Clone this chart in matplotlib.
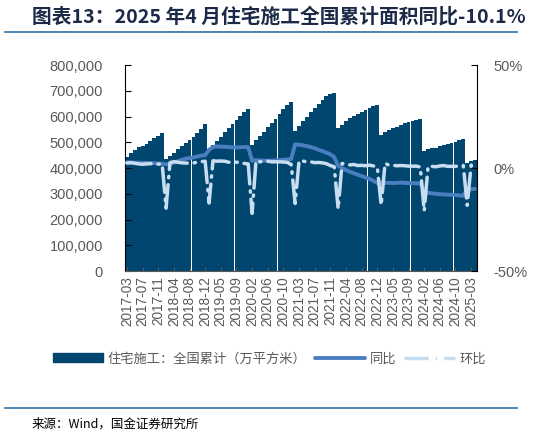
import matplotlib.pyplot as plt
from matplotlib.ticker import FuncFormatter, FixedLocator
from matplotlib.lines import Line2D

plt.rcParams['font.family'] = ['Liberation Sans', 'Noto Sans CJK SC', 'DejaVu Sans']

# months: 2017-03 .. 2025-04, January is not published
years = list(range(2017, 2026))
months = []
for y in years:
    for m in range(2, 13):
        if (y == 2017 and m < 3) or (y == 2025 and m > 4):
            continue
        months.append(f'{y}-{m:02d}')

# residential construction area, cumulative (10k m2)
area = [
    443000, 458000, 470000, 480000, 487000, 495000, 504000, 515000, 525000, 537000,
    434000, 445000, 459000, 472000, 484000, 496000, 508000, 520000, 535000, 552000, 570000,
    473000, 489000, 505000, 522000, 539000, 554000, 570000, 586000, 603000, 616000, 628000,
    490000, 508000, 523000, 540000, 558000, 575000, 592000, 610000, 628000, 645000, 656000,
    543000, 562000, 581000, 598000, 616000, 632000, 649000, 665000, 679000, 687000, 691000,
    554000, 566000, 584000, 593000, 603000, 610000, 618000, 625000, 634000, 640000, 644000,
    528000, 540000, 547000, 554000, 560000, 567000, 573000, 578000, 583000, 588000, 591000,
    468000, 472000, 476000, 479000, 484000, 490000, 494000, 498000, 502000, 507000, 513000,
    420000, 426000, 431000,
]

# year on year (%)
yoy = [
    2.8, 2.7, 2.6, 2.6, 2.5, 2.5, 2.4, 2.3, 2.2, 2.1,
    1.8, 2.0, 2.6, 3.3, 4.0, 4.5, 4.8, 5.2, 5.6, 6.0, 6.3,
    8.8, 10.2, 10.5, 10.4, 10.3, 10.2, 10.0, 10.0, 10.1, 10.2, 10.1,
    3.5, 3.8, 3.7, 3.6, 3.5, 3.6, 3.7, 3.9, 4.0, 4.1, 4.4,
    11.5, 11.3, 11.0, 10.6, 10.2, 9.6, 8.8, 8.2, 7.5, 6.6, 5.3,
    1.0, 0.0, -1.0, -1.8, -2.5, -3.2, -3.9, -4.6, -5.3, -6.2, -7.3,
    -7.0, -7.2, -7.2, -7.3, -7.2, -7.1, -7.2, -7.3, -7.3, -7.4, -7.5,
    -11.0, -12.0, -12.3, -12.5, -12.7, -12.8, -12.9, -13.0, -13.1, -13.3, -13.4,
    -10.3, -10.3, -10.1,
]

# month on month (%)
mom = [
    2.4, 2.6, 2.3, 2.0, 1.8, 2.0, 2.1, 2.2, 1.9, 2.0,
    -19.5, 2.6, 3.1, 2.8, 2.5, 2.4, 2.3, 2.4, 2.9, 3.1, 3.3,
    -17.0, 3.5, 3.3, 3.4, 3.3, 2.8, 2.9, 2.8, 2.9, 2.2, 2.0,
    -22.0, 3.6, 3.0, 3.2, 3.3, 3.0, 3.0, 3.0, 2.9, 2.7, 1.7,
    -17.2, 3.5, 3.4, 2.9, 3.0, 2.6, 2.7, 2.5, 2.1, 1.2, 0.6,
    -19.8, 2.2, 2.0, 1.5, 1.7, 1.2, 1.3, 1.1, 1.4, 1.0, 0.6,
    -18.0, 2.3, 1.3, 1.3, 1.1, 1.2, 1.1, 0.9, 0.9, 0.9, 0.5,
    -20.8, 0.9, 0.8, 0.6, 1.0, 1.2, 0.8, 0.8, 0.8, 1.0, 1.2,
    -18.1, 1.4, 1.2,
]

bar_color = '#00466E'
yoy_color = '#4A7EC0'
mom_color = '#C9DDF0'
grey = '#595959'
cjk = ['Noto Sans CJK SC', 'DejaVu Sans']
mom_style = (0, (7, 2, 0.4, 2))

fig = plt.figure(figsize=(5.59, 4.36), dpi=100)
ax = fig.add_axes([0.2236, 0.3784, 0.6297, 0.4725])
ax2 = ax.twinx()

x = list(range(len(months)))
ax.bar(x, area, width=0.98, color=bar_color, linewidth=0)
ax2.plot(x, yoy, color=yoy_color, lw=2.8, solid_capstyle='round', solid_joinstyle='round')
ax2.plot(x, mom, color=mom_color, lw=2.5, linestyle=mom_style, dash_capstyle='round')

ax.set_xlim(-0.5, len(months) - 0.5)
ax.set_ylim(0, 800000)
ax.yaxis.set_major_locator(FixedLocator(range(0, 800001, 100000)))
ax.yaxis.set_major_formatter(FuncFormatter(lambda v, p: f'{v:,.0f}'))
ax2.set_ylim(-50, 50)
ax2.set_yticks([-50, 0, 50])
ax2.yaxis.set_major_formatter(FuncFormatter(lambda v, p: f'{v:.0f}%'))

tick_pos = x[::4]
ax.set_xticks(tick_pos)
ax.set_xticklabels([months[i] for i in tick_pos], rotation=90)

for a in (ax, ax2):
    a.spines['top'].set_visible(False)
ax.spines['left'].set_color('black')
ax2.spines['right'].set_color('black')
ax.spines['bottom'].set_color(grey)
ax2.spines['bottom'].set_visible(False)
ax2.spines['left'].set_visible(False)
ax.spines['right'].set_visible(False)

ax.tick_params(axis='y', direction='in', length=4, colors='black', labelcolor=grey,
               labelsize=10.5, pad=16)
ax2.tick_params(axis='y', direction='in', length=4, colors='black', labelcolor=grey,
                labelsize=10.5, pad=12)
ax.tick_params(axis='x', direction='in', length=3, colors=grey, labelcolor=grey,
               labelsize=9.8, pad=4)

# legend
handles = [
    plt.Rectangle((0, 0), 1, 1, color=bar_color),
    Line2D([], [], color=yoy_color, lw=2.8, solid_capstyle='round'),
    Line2D([], [], color=mom_color, lw=2.5, linestyle=mom_style),
]
labels = ['住宅施工：全国累计（万平方米）', '同比', '环比']
fig.legend(handles, labels, loc='center', bbox_to_anchor=(0.482, 0.177), ncol=3,
           frameon=False, handlelength=3.8, handletextpad=0.4, columnspacing=0.6,
           prop={'family': cjk, 'size': 9.5}, labelcolor=grey)

# title and source
fig.text(0.057, 0.963, '图表13：2025 年4 月住宅施工全国累计面积同比-10.1%',
         fontsize=14.2, fontweight='bold', color='#1C2A48', family=cjk,
         ha='left', va='center')
fig.add_artist(Line2D([0.009, 0.925], [0.927, 0.927], color='#2F6C9E', lw=1.2))
fig.add_artist(Line2D([0.009, 0.925], [0.064, 0.064], color='#2F6C9E', lw=1.2))
fig.text(0.057, 0.027, '来源：Wind，国金证券研究所', fontsize=9, color='black',
         family=cjk, ha='left', va='center')

fig.savefig('out.png', dpi=100)
